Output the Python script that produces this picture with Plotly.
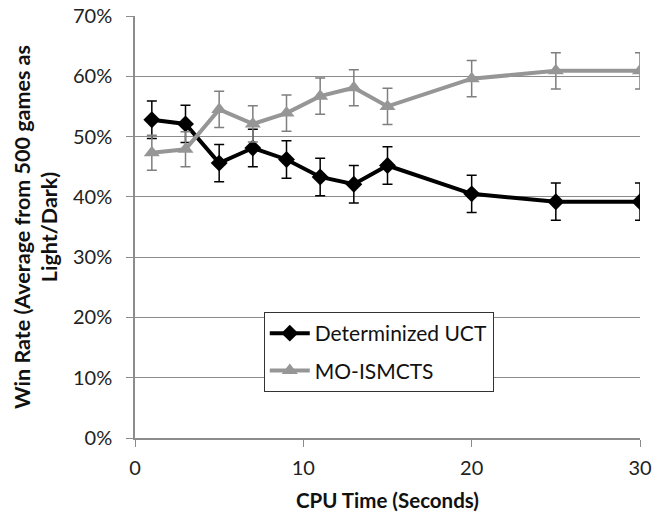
import plotly.graph_objects as go

cpu_time = [1, 3, 5, 7, 9, 11, 13, 15, 20, 25, 30]
uct_win = [0.528, 0.521, 0.456, 0.481, 0.462, 0.433, 0.421, 0.452, 0.405, 0.392, 0.392]
uct_err = [0.031, 0.031, 0.031, 0.031, 0.031, 0.031, 0.031, 0.031, 0.031, 0.031, 0.031]
ism_win = [0.473, 0.479, 0.545, 0.521, 0.539, 0.567, 0.581, 0.550, 0.596, 0.609, 0.609]
ism_err = [0.029, 0.029, 0.030, 0.030, 0.030, 0.030, 0.030, 0.030, 0.030, 0.030, 0.030]
y_ticks = [0, 0.1, 0.2, 0.3, 0.4, 0.5, 0.6, 0.7]
y_labels = ["0%", "10%", "20%", "30%", "40%", "50%", "60%", "70%"]
x_ticks = [0, 10, 20, 30]

FONT = "Lato"
GRID = "#8c8c8c"

fig = go.Figure()
fig.add_trace(go.Scatter(
    x=cpu_time, y=uct_win, name="Determinized UCT", mode="lines+markers",
    legendgroup="a",
    line=dict(color="#000000", width=4),
    marker=dict(symbol="diamond", size=13, color="#000000"),
    error_y=dict(type="data", array=uct_err, color="#000000", thickness=1.5, width=5),
))
fig.add_trace(go.Scatter(
    x=cpu_time, y=ism_win, name="MO-ISMCTS", mode="lines+markers",
    legendgroup="b",
    line=dict(color="#969696", width=4),
    marker=dict(symbol="triangle-up", size=14, color="#969696"),
    error_y=dict(type="data", array=ism_err, color="#7f7f7f", thickness=1.5, width=5),
))

fig.update_layout(
    width=671, height=515,
    margin=dict(l=135, r=31, t=16, b=77),
    paper_bgcolor="white", plot_bgcolor="white",
    font=dict(family=FONT, size=17, color="#222222"),
    showlegend=True,
    legend=dict(
        x=0.255, y=0.2986, xanchor="left", yanchor="top",
        bgcolor="white", bordercolor="#333333", borderwidth=1,
        font=dict(family=FONT, size=21, color="#111111"),
        itemwidth=40, tracegroupgap=7,
    ),
    xaxis=dict(
        range=[0, 30], tickvals=x_ticks, ticktext=[str(v) for v in x_ticks],
        showgrid=False, zeroline=False, automargin=False,
        showline=True, linecolor=GRID, linewidth=1.5,
        ticks="outside", ticklen=7, tickcolor=GRID,
        tickfont=dict(size=20), ticklabelstandoff=4,
        title=dict(text="<b>CPU Time (Seconds)</b>", font=dict(size=20.5, color="#111111"), standoff=16),
    ),
    yaxis=dict(
        range=[0, 0.7], tickvals=y_ticks, ticktext=y_labels,
        showgrid=True, gridcolor=GRID, gridwidth=1, zeroline=False, automargin=False,
        showline=True, linecolor=GRID, linewidth=1.5,
        ticks="outside", ticklen=7, tickcolor=GRID,
        tickfont=dict(size=20), ticklabelstandoff=10, ticklabeloverflow="allow",
        title=dict(text="<b>Win Rate (Average from 500 games as<br>Light/Dark)</b>", font=dict(size=21.5, color="#111111"), standoff=9),
    ),
)

fig.write_html("out.html", config={"displayModeBar": False},
               post_script="document.body.style.margin='0';")
